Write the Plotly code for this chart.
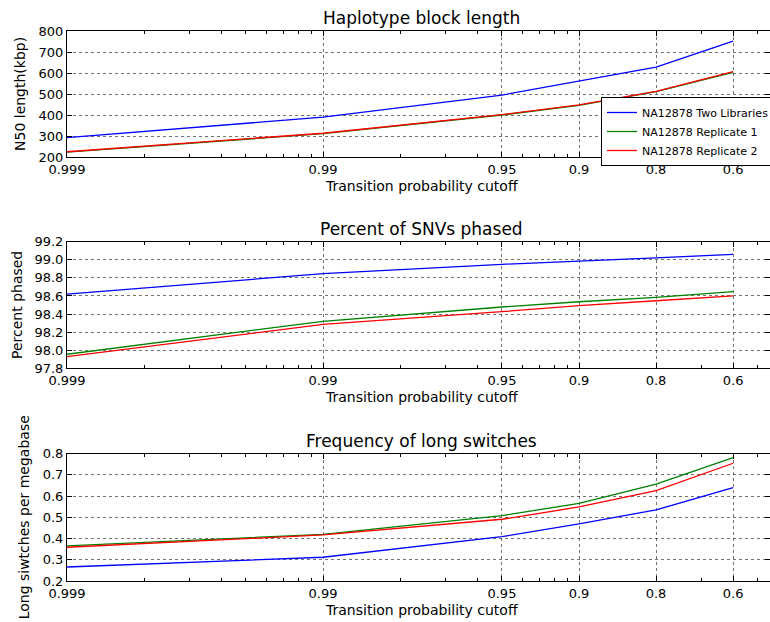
import plotly.graph_objects as go
import numpy as np

cutoffs = [0.999, 0.99, 0.95, 0.9, 0.8, 0.6]
tick_labels = ["0.999", "0.99", "0.95", "0.9", "0.8", "0.6"]
series_names = ["NA12878 Two Libraries", "NA12878 Replicate 1", "NA12878 Replicate 2"]

n50_two = [292, 390, 495, 562, 628, 752]
n50_rep1 = [223, 311, 400, 446, 511, 603]
n50_rep2 = [225, 313, 402, 448, 513, 606]

pct_two = [98.62, 98.846, 98.95, 98.99, 99.022, 99.06]
pct_rep1 = [97.955, 98.32, 98.478, 98.536, 98.585, 98.647]
pct_rep2 = [97.928, 98.286, 98.426, 98.492, 98.547, 98.6]

sw_two = [0.266, 0.312, 0.409, 0.469, 0.535, 0.64]
sw_rep1 = [0.366, 0.42, 0.508, 0.566, 0.657, 0.781]
sw_rep2 = [0.359, 0.417, 0.491, 0.549, 0.626, 0.755]

colors = ["#0000ff", "#008000", "#ff0000"]
FONT = "DejaVu Sans"
W, H = 770, 622

xvals = [1 - c for c in cutoffs]
minor_vals = [m * 10.0 ** e for e in (-3, -2, -1) for m in range(2, 10) if m * 10.0 ** e < 0.6]

panels = [
    dict(data=[n50_two, n50_rep1, n50_rep2], title="Haplotype block length", ylab="N50 length(kbp)",
         yr=[200, 800], yt=[200, 300, 400, 500, 600, 700, 800], fmt="d", top=31, bot=157, ylx=20),
    dict(data=[pct_two, pct_rep1, pct_rep2], title="Percent of SNVs phased", ylab="Percent phased",
         yr=[97.8, 99.2], yt=[97.8, 98.0, 98.2, 98.4, 98.6, 98.8, 99.0, 99.2], fmt=".1f", top=241.7, bot=368.3, ylx=17),
    dict(data=[sw_two, sw_rep1, sw_rep2], title="Frequency of long switches", ylab="Long siwtches per megabase",
         yr=[0.2, 0.8], yt=[0.2, 0.3, 0.4, 0.5, 0.6, 0.7, 0.8], fmt=".1f", top=453.7, bot=581, ylx=24),
]

fig = go.Figure()
left = 67
xr = [-3, -3 + (W - left) / 256.0]
annotations = []
for i, p in enumerate(panels):
    k = "" if i == 0 else str(i + 1)
    for j, ys in enumerate(p["data"]):
        fig.add_trace(go.Scatter(x=xvals, y=ys, mode="lines", name=series_names[j],
                                 line=dict(color=colors[j], width=1.3),
                                 xaxis="x" + k, yaxis="y" + k, showlegend=(i == 0)))
    dom_y = [1 - p["bot"] / H, 1 - p["top"] / H]
    fig.layout["xaxis" + k] = dict(
        type="log", domain=[left / W, 1], range=xr, anchor="y" + k, automargin=False,
        tickvals=xvals, ticktext=tick_labels, ticks="inside", ticklen=5, tickcolor="black",
        showline=True, linecolor="black", linewidth=1, mirror="ticks",
        showgrid=True, gridcolor="rgba(0,0,0,0.55)", griddash="dot", gridwidth=1,
        zeroline=False, tickfont=dict(family=FONT, size=13, color="black"),
        minor=dict(tickvals=minor_vals, ticks="inside", ticklen=3, tickcolor="black", showgrid=False),
    )
    fig.layout["yaxis" + k] = dict(
        domain=dom_y, range=[p["yr"][0] - 1e-9, p["yr"][1] + 1e-9], anchor="x" + k, automargin=False,
        tickvals=p["yt"], tickformat=p["fmt"], ticks="inside", ticklen=5, tickcolor="black",
        showline=True, linecolor="black", linewidth=1, mirror="ticks",
        showgrid=True, gridcolor="rgba(0,0,0,0.55)", griddash="dot", gridwidth=1,
        zeroline=False, tickfont=dict(family=FONT, size=13, color="black"),
    )
    mid_x = (left + 775) / 2 / W
    annotations.append(dict(text=p["title"], x=mid_x, y=1 - (p["top"] - 13) / H, xref="paper", yref="paper",
                            showarrow=False, font=dict(family=FONT, size=17, color="black"),
                            xanchor="center", yanchor="middle"))
    annotations.append(dict(text="Transition probability cutoff", x=mid_x, y=1 - (p["bot"] + 29) / H,
                            xref="paper", yref="paper", showarrow=False,
                            font=dict(family=FONT, size=14, color="black"), xanchor="center", yanchor="middle"))
    annotations.append(dict(text=p["ylab"], x=p["ylx"] / W, y=1 - (p["top"] + p["bot"]) / 2 / H,
                            xref="paper", yref="paper", showarrow=False, textangle=-90,
                            font=dict(family=FONT, size=14, color="black"), xanchor="center", yanchor="middle"))

fig.update_layout(
    width=W, height=H, margin=dict(l=0, r=0, t=0, b=0, autoexpand=False),
    paper_bgcolor="white", plot_bgcolor="white",
    font=dict(family=FONT, color="black"),
    annotations=annotations,
    legend=dict(x=601 / W, y=1 - 97 / H, xanchor="left", yanchor="top",
                bordercolor="black", borderwidth=1, bgcolor="white",
                font=dict(family=FONT, size=11, color="black"), tracegroupgap=0),
)

fig.write_html("out.html", config={"displayModeBar": False},
               post_script="document.body.style.margin='0';document.body.style.overflow='hidden';")
